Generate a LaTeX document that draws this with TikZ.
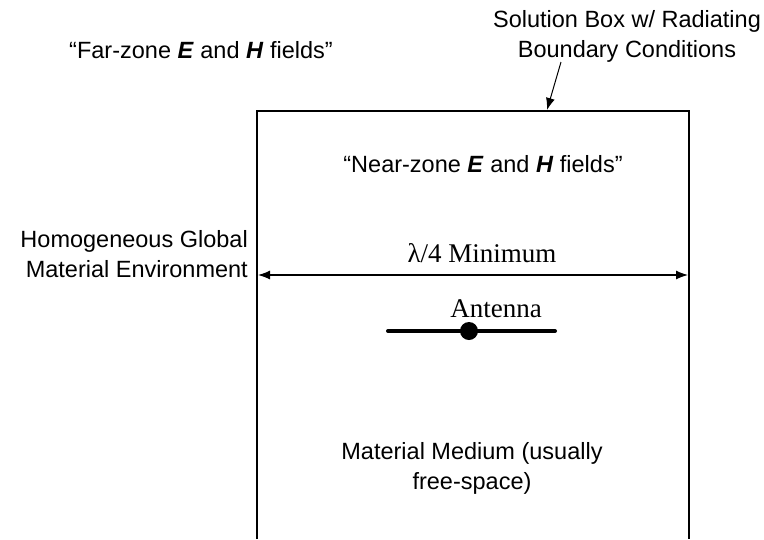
\documentclass[tikz,border=0pt]{standalone}
\usepackage{fontspec}
\setmainfont{Liberation Sans}
\newfontfamily\timesfont{Liberation Serif}
\usetikzlibrary{arrows.meta, positioning}

\begin{document}
\begin{tikzpicture}[x=1pt, y=-1pt,
    txt/.style={font=\fontsize{23.5}{30}\selectfont, align=center, inner sep=0pt},
    serif/.style={font=\timesfont\fontsize{27}{32}\selectfont, inner sep=0pt},
    tip/.style={-{Latex[length=12pt, width=9pt]}},
    twotips/.style={{Latex[length=12pt, width=9pt]}-{Latex[length=12pt, width=9pt]}}]
    \useasboundingbox (0,0) rectangle (764,539);

    % Solution box (open at the bottom)
    \coordinate (bl) at (257,539);
    \coordinate (tl) at (257,110.5);
    \coordinate (tr) at (689,110.5);
    \coordinate (br) at (689,539);
    \draw[line width=2pt] (bl) -- (tl) -- (tr) -- (br);

    % Labels outside the box
    \node[txt] (farzone) at (201,50) {``Far-zone \textbf{\textit{E}} and \textbf{\textit{H}} fields''};
    \node[txt] (solbox) at (627,36) {Solution Box w/ Radiating\\Boundary Conditions};
    \node[txt, align=right, anchor=east] (homog) at (248,254) {Homogeneous Global\\Material Environment};

    % Arrow onto the top of the box
    \coordinate (solstart) at (561,62);
    \coordinate (solend) at (547,110);
    \draw[tip, line width=1pt] (solstart) -- (solend);

    % Labels inside the box
    \node[txt] (nearzone) at (483,164) {``Near-zone \textbf{\textit{E}} and \textbf{\textit{H}} fields''};
    \node[txt] (medium) at (472,468) {Material Medium (usually\\free-space)};

    % Minimum distance
    \coordinate (dl) at (258,275);
    \coordinate (dr) at (688,275);
    \draw[twotips, line width=1.2pt] (dl) -- (dr);
    \node[serif] (quarter) at (482,253) {λ/4 Minimum};

    % Antenna
    \coordinate (antl) at (388,331);
    \coordinate (antr) at (555,331);
    \draw[line width=4pt, line cap=round] (antl) -- (antr);
    \node[circle, fill, inner sep=0pt, minimum size=18pt] (feed) at (469,331) {};
    \node[serif] (antenna) at (496,309) {Antenna};
\end{tikzpicture}
\end{document}
